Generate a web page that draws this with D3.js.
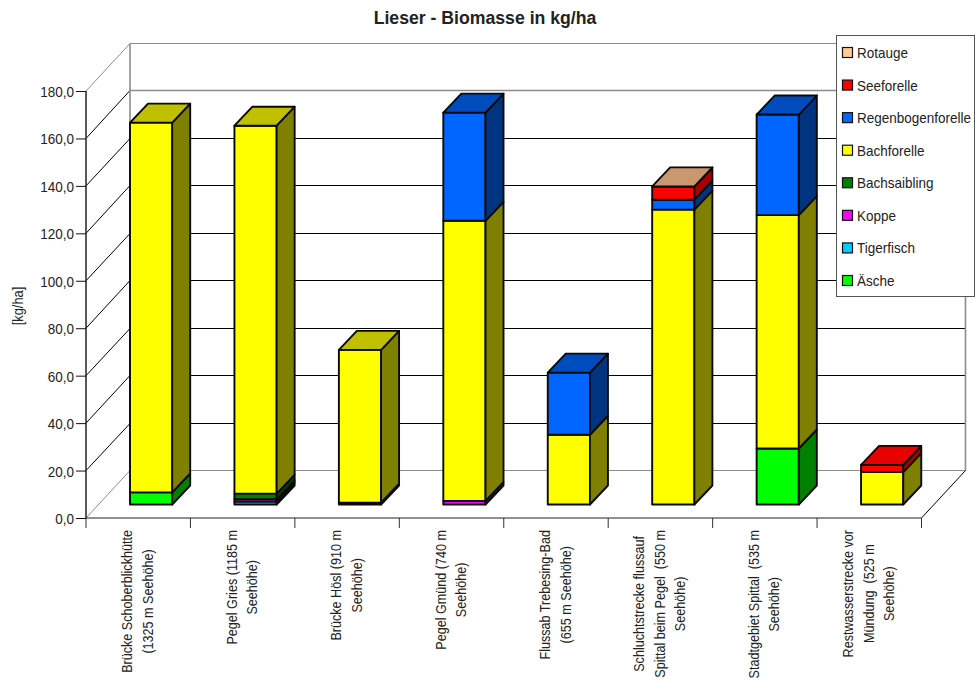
<!DOCTYPE html>
<html><head><meta charset="utf-8">
<script src="https://cdn.jsdelivr.net/npm/d3@7"></script>
<style>
html,body{margin:0;padding:0;background:#fff}
svg{display:block}
text{font-family:"Liberation Sans",Arial,sans-serif;fill:#222;white-space:pre}
</style></head><body>
<script>
const categories = [
  ["Brücke Schoberblickhütte","(1325 m Seehöhe)"],
  ["Pegel Gries (1185 m","Seehöhe)"],
  ["Brücke Hösl (910 m","Seehöhe)"],
  ["Pegel Gmünd (740 m","Seehöhe)"],
  ["Flussab Trebesing-Bad","(655 m Seehöhe)"],
  ["Schluchtstrecke flussauf","Spittal beim Pegel  (550 m","Seehöhe)"],
  ["Stadtgebiet Spittal  (535 m","Seehöhe)"],
  ["Restwasserstrecke vor","Mündung  (525 m","Seehöhe)"]
];
const seriesNames = ["Äsche","Tigerfisch","Koppe","Bachsaibling","Bachforelle","Regenbogenforelle","Seeforelle","Rotauge"];
const frontColors = ["#00ff00","#00ccff","#ff00ff","#008000","#ffff00","#0066ff","#ff0000","#ffcc99"];
const sideColors  = ["#008000","#006680","#800080","#004000","#808000","#003380","#a80000","#806640"];
const topColors   = ["#00c000","#0099c0","#c000c0","#006000","#c0c000","#004cbf","#e60000","#c8996e"];
const aesche       = [5.1,0,0,0,0,0,23.6,0];
const tigerfisch   = [0,1.2,0,0,0,0,0,0];
const koppe        = [0,1,0.8,1.5,0,0,0,0];
const bachsaibling = [0,2.4,0,0,0,0,0,0];
const bachforelle  = [155.9,155.1,64.4,118.1,29.4,124.3,98.4,13.7];
const regenbogen   = [0,0,0,45.6,26.2,4.2,42.4,0];
const seeforelle   = [0,0,0,0,0,5.5,0,3];
const rotauge      = [0,0,0,0,0,0.1,0,0];
const valueTicks = [0,20,40,60,80,100,120,140,160,180];
const seriesValues = [aesche,tigerfisch,koppe,bachsaibling,bachforelle,regenbogen,seeforelle,rotauge];

const W = 975, H = 681;
const svg = d3.select("body").append("svg").attr("width",W).attr("height",H);

// Front plane of the 3D box, plus the depth offset to the back wall
const x = d3.scaleBand().domain(d3.range(categories.length)).range([86,921.5]);
const y = d3.scaleLinear().domain([0,180]).range([518,91]);
const depth = {dx:44, dy:-47.5};
const grey = "#8c8c8c", ink = "#000";

// Walls and floor; horizontal rules snap to the pixel grid so they stay crisp
const wall = svg.append("g").attr("fill","none");
const back = v => Math.floor(y(v)+depth.dy)+0.5;
valueTicks.forEach(v=>{
  const edge = v===0||v===180;
  const backEdge = v===0||v===160||v===180;
  wall.append("line").attr("x1",x.range()[0]+depth.dx).attr("x2",x.range()[1]+depth.dx)
    .attr("y1",back(v)).attr("y2",back(v))
    .attr("stroke",backEdge?grey:ink).attr("stroke-width",backEdge?(v===160?1.6:1.2):1);
  wall.append("line").attr("x1",x.range()[0]).attr("x2",x.range()[0]+depth.dx)
    .attr("y1",y(v)).attr("y2",back(v))
    .attr("stroke",edge?grey:ink).attr("stroke-width",1);
});
wall.append("line").attr("x1",86+depth.dx).attr("x2",86+depth.dx).attr("y1",back(180)).attr("y2",back(0)).attr("stroke",grey).attr("stroke-width",1.6);
wall.append("line").attr("x1",921.5+depth.dx).attr("x2",921.5+depth.dx).attr("y1",back(180)).attr("y2",back(0)).attr("stroke",grey).attr("stroke-width",1.6);
wall.append("line").attr("x1",921.5).attr("x2",921.5+depth.dx).attr("y1",y(0)).attr("y2",back(0)).attr("stroke",ink);

// Axes on the front plane
const yAxis = d3.axisLeft(y).tickValues(valueTicks).tickSize(10).tickPadding(0)
  .tickFormat(v=>d3.format(".1f")(v).replace(".",","));
const gy = svg.append("g").attr("transform","translate(86,0)").call(yAxis);
gy.selectAll("line").attr("stroke","#111");
gy.select("path").attr("d","M0,91V518").attr("stroke","#222").attr("stroke-width",1.5);
gy.selectAll("text").attr("font-size",15).attr("dy",null)
  .attr("transform","translate(-12,5.5) scale(.9,1)")
  .attr("x",0).attr("y",0);

const band = x.step();
const ticksX = d3.range(categories.length+1).map(i=>x.range()[0]+i*band);
const axisX = svg.append("g");
axisX.append("line").attr("x1",86).attr("x2",921.5).attr("y1",518).attr("y2",518).attr("stroke","#222").attr("stroke-width",1.2);
axisX.selectAll("line.t").data(ticksX).join("line").attr("class","t")
  .attr("x1",d=>d).attr("x2",d=>d).attr("y1",518).attr("y2",528).attr("stroke","#333");

// Wrapped, rotated category labels, top-aligned under the axis
const labelScale = 0.84, lineGap = 20.5, labelTop = 530;
categories.forEach((lines,i)=>{
  const cx = x(i)+band/2;
  const g = svg.append("g");
  const nodes = lines.map(l=>g.append("text").attr("text-anchor","middle").attr("font-size",15).text(l));
  const longest = d3.max(nodes,n=>n.node().getComputedTextLength())*labelScale;
  nodes.forEach((n,k)=>{
    const lx = cx+(k-(lines.length-1)/2)*lineGap+4.3;
    n.attr("transform",`translate(${lx},${labelTop+longest/2}) rotate(-90) scale(${labelScale},1)`);
  });
});

// Stacked 3D bars: front, side and top faces, drawn bottom to top
const stack = d3.stack().keys(d3.range(seriesNames.length)).value((row,k)=>row[k])(categories.map((_,i)=>seriesValues.map(s=>s[i])));
const barW = 42.2, barBase = 504.5, barUnit = 2.372, bd = {dx:18, dy:-19};
const by = v => barBase - v*barUnit;
const bars = svg.append("g").attr("stroke","#0a0a0a").attr("stroke-width",1.9).attr("stroke-linejoin","round");
categories.forEach((_,i)=>{
  const bx = x(i)+44;
  let topSeries = -1, topVal = 0;
  stack.forEach((layer,k)=>{
    const [a,b] = layer[i];
    if (b<=a) return;
    bars.append("rect").attr("x",bx).attr("y",by(b)).attr("width",barW).attr("height",by(a)-by(b)).attr("fill",frontColors[k]);
    bars.append("polygon").attr("fill",sideColors[k])
      .attr("points",[[bx+barW,by(a)],[bx+barW+bd.dx,by(a)+bd.dy],[bx+barW+bd.dx,by(b)+bd.dy],[bx+barW,by(b)]].join(" "));
    topSeries = k; topVal = b;
  });
  bars.append("polygon").attr("fill",topColors[topSeries])
    .attr("points",[[bx,by(topVal)],[bx+bd.dx,by(topVal)+bd.dy],[bx+barW+bd.dx,by(topVal)+bd.dy],[bx+barW,by(topVal)]].join(" "));
});

// Title and value-axis label
svg.append("text").attr("transform","translate(485,24) scale(.93,1)").attr("text-anchor","middle").attr("font-size",19).attr("font-weight","bold").text("Lieser - Biomasse in kg/ha");
svg.append("text").attr("transform","translate(23,306) rotate(-90) scale(.86,1)").attr("text-anchor","middle").attr("font-size",15).text("[kg/ha]");

// Legend, top series first
const legend = svg.append("g");
legend.append("rect").attr("x",836.5).attr("y",35.5).attr("width",138).attr("height",261).attr("fill","#fff").attr("stroke","#555");
const ly = d3.scalePoint().domain(d3.range(seriesNames.length).reverse()).range([52.5,280.5]);
seriesNames.forEach((n,k)=>{
  legend.append("rect").attr("x",842.5).attr("y",ly(k)-5).attr("width",10).attr("height",10).attr("fill",frontColors[k]).attr("stroke","#111").attr("stroke-width",1.2);
  legend.append("text").attr("transform",`translate(857,${ly(k)+5.5}) scale(.9,1)`).attr("font-size",15).text(n);
});
</script></body></html>
